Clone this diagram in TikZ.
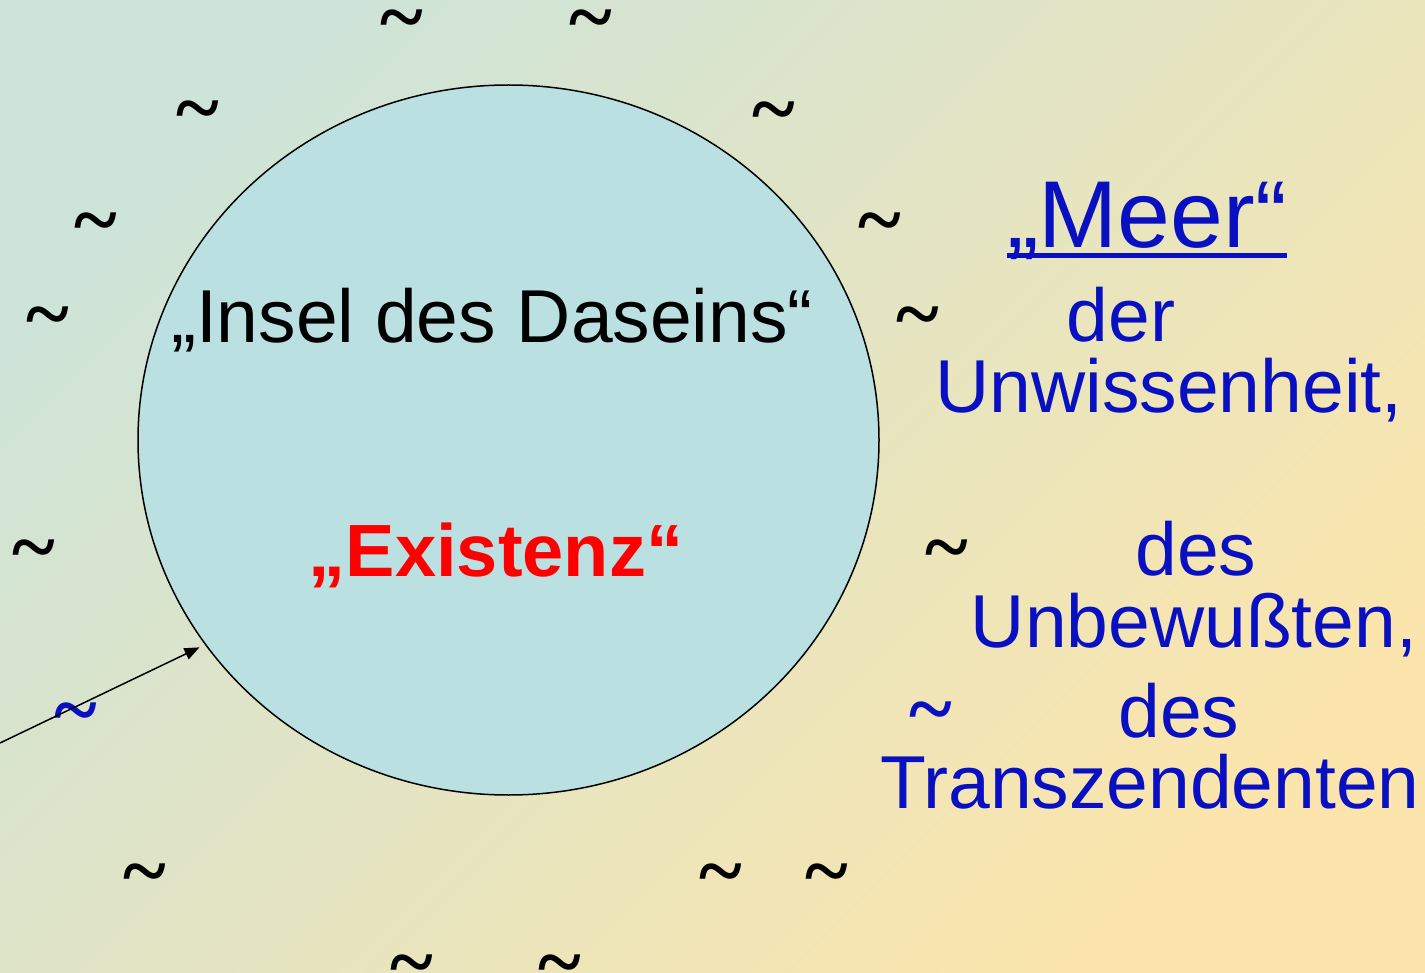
\documentclass[tikz,border=0pt]{standalone}
\usepackage{fontspec}
\setmainfont{Liberation Sans}
\newfontfamily\wavefont{Liberation Serif}
\usetikzlibrary{arrows.meta, shapes.geometric}

\definecolor{bgteal}{RGB}{206,228,216}
\definecolor{bgsand}{RGB}{251,229,172}
\definecolor{islandfill}{RGB}{186,224,226}
\definecolor{seablue}{RGB}{8,16,194}

\begin{document}
\begin{tikzpicture}[
x=1pt, y=-1pt,
wave/.style={inner sep=0pt, font=\wavefont\bfseries\fontsize{82}{82}\selectfont, yshift=-9pt},
bluewave/.style={wave, text=seablue},
sea/.style={anchor=base, inner sep=0pt, text=seablue, font=\fontsize{75}{80}\selectfont},
arrow/.style={-{Triangle[length=15pt, width=12pt]}, line width=1.5pt}
]

% background
\shade[top color=bgteal, bottom color=bgsand, shading angle=45] (0,0) rectangle (1425,973);
\useasboundingbox (0,0) rectangle (1425,973);

% island
\node[ellipse, draw, line width=1.5pt, fill=islandfill, inner sep=0pt,
      minimum width=741pt, minimum height=710pt] (island) at (508.5,440) {};
\node[anchor=base, inner sep=0pt, font=\fontsize{75}{80}\selectfont] (insel) at (492,343) {„Insel des Daseins“};
\node[anchor=base, inner sep=0pt, text=red, font=\bfseries\fontsize{74}{80}\selectfont] (existenz) at (496,576) {„Existenz“};

% sea text
\node[sea, font=\fontsize{95}{100}\selectfont] (meer) at (1147,248) {„Meer“};
\draw[seablue, line width=5pt] ([yshift=-8pt]meer.base west) -- ([yshift=-8pt]meer.base east);
\node[sea] (der) at (1121,342) {der};
\node[sea] (unwissen) at (1169,413) {Unwissenheit,};
\node[sea] (des1) at (1196,575) {des};
\node[sea] (unbewusst) at (1194,647) {Unbewußten,};
\node[sea] (des2) at (1179,737) {des};
\node[sea] (transzend) at (1150,808) {Transzendenten};

% waves
\node[wave] (wave1) at (402,18) {\~{}};
\node[wave] (wave2) at (591,18) {\~{}};
\node[wave] (wave3) at (198,109) {\~{}};
\node[wave] (wave4) at (774,110) {\~{}};
\node[wave] (wave5) at (96,221) {\~{}};
\node[wave] (wave6) at (880,221) {\~{}};
\node[wave] (wave7) at (48,315) {\~{}};
\node[wave] (wave8) at (918,315) {\~{}};
\node[wave] (wave9) at (34,548) {\~{}};
\node[wave] (wave10) at (947,548) {\~{}};
\node[bluewave] (wave11) at (76,711) {\~{}};
\node[bluewave] (wave12) at (931,710) {\~{}};
\node[wave] (wave13) at (145,872) {\~{}};
\node[wave] (wave14) at (721,872) {\~{}};
\node[wave] (wave15) at (827,872) {\~{}};
\node[wave] (wave16) at (412,963) {\~{}};
\node[wave] (wave17) at (560,963) {\~{}};

\coordinate (shore) at (0,743);
\draw[arrow, shorten >=6pt] (shore) -- (island.214);

\end{tikzpicture}
\end{document}
